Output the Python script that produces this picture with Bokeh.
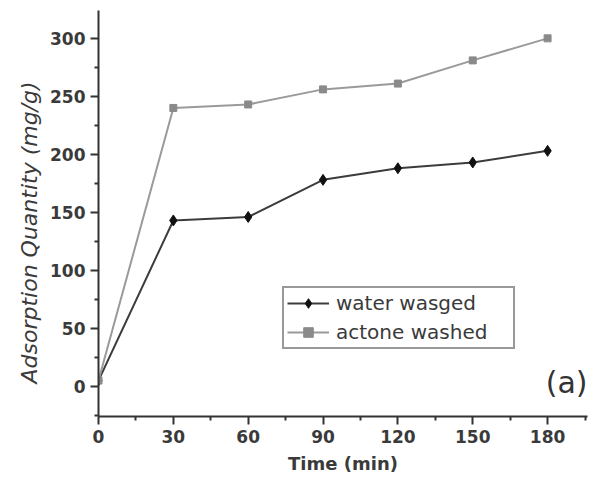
from bokeh.plotting import figure
from bokeh.models import Range1d, Label, Legend, LegendItem, FixedTicker, Title
from bokeh.embed import file_html
from bokeh.resources import INLINE

time_min = [0, 30, 60, 90, 120, 150, 180]
water_washed = [5, 143, 146, 178, 188, 193, 203]
acetone_washed = [5, 240, 243, 256, 261, 281, 300]
x_ticks = [0, 30, 60, 90, 120, 150, 180]
y_ticks = [0, 50, 100, 150, 200, 250, 300]
x_minor = [15, 45, 75, 105, 135, 165, 195]
y_minor = [-25, 25, 75, 125, 175, 225, 275, 325]

FONT = "DejaVu Sans"
AXC = "#333333"
TXC = "#3a3a3a"

p = figure(width=595, height=483, output_backend="svg", toolbar_location=None,
           x_range=Range1d(0, 196), y_range=Range1d(-26, 324),
           min_border_left=98, min_border_right=8, min_border_top=10, min_border_bottom=67)
p.outline_line_color = None
p.xgrid.visible = False
p.ygrid.visible = False
p.background_fill_color = "white"
p.border_fill_color = "white"

for ax in (p.xaxis[0], p.yaxis[0]):
    ax.axis_line_color = AXC
    ax.axis_line_width = 2
    ax.major_tick_line_color = AXC
    ax.major_tick_line_width = 2
    ax.minor_tick_line_color = AXC
    ax.minor_tick_line_width = 2
    ax.major_tick_out = 8
    ax.major_tick_in = 0
    ax.minor_tick_out = 4
    ax.minor_tick_in = 0
    ax.major_label_text_font = FONT
    ax.major_label_text_font_size = "17px"
    ax.major_label_text_font_style = "bold"
    ax.major_label_text_color = TXC

p.xaxis[0].ticker = FixedTicker(ticks=x_ticks, minor_ticks=x_minor)
p.yaxis[0].ticker = FixedTicker(ticks=y_ticks, minor_ticks=y_minor)
p.xaxis[0].major_label_standoff = 5
p.yaxis[0].major_label_standoff = 5

p.xaxis[0].axis_label = "Time (min)"
p.xaxis[0].axis_label_text_font = FONT
p.xaxis[0].axis_label_text_font_size = "18px"
p.xaxis[0].axis_label_text_font_style = "bold"
p.xaxis[0].axis_label_text_color = TXC
p.xaxis[0].axis_label_standoff = 7

ytitle = Title(text="Adsorption Quantity (mg/g)", align="left", offset=33,
               text_font=FONT, text_font_size="22px", text_font_style="italic",
               text_color=TXC, standoff=12)
p.add_layout(ytitle, "left")

r1 = p.line(time_min, water_washed, line_color="#3c3c3c", line_width=2)
m1 = p.scatter(time_min, water_washed, marker="diamond", size=11,
               fill_color="#111111", line_color="#111111")
r2 = p.line(time_min, acetone_washed, line_color="#9a9a9a", line_width=2)
m2 = p.scatter(time_min, acetone_washed, marker="square", size=7,
               fill_color="#8a8a8a", line_color="#8a8a8a")

legend = Legend(items=[LegendItem(label="water wasged", renderers=[r1, m1]),
                       LegendItem(label="actone washed", renderers=[r2, m2])],
                location=(184, 67), margin=0, padding=3, spacing=5,
                glyph_width=42, glyph_height=24, label_height=24, label_width=174,
                label_standoff=7,
                label_text_font=FONT, label_text_font_size="20px",
                label_text_color=TXC,
                border_line_color="#333333", border_line_width=2,
                background_fill_alpha=1)
p.add_layout(legend)

p.add_layout(Label(x=196, y=3, text="(a)", text_align="right", text_baseline="middle",
                   text_font=FONT, text_font_size="30px", text_color="#333333"))

open("out.html", "w").write(file_html(p, INLINE))
